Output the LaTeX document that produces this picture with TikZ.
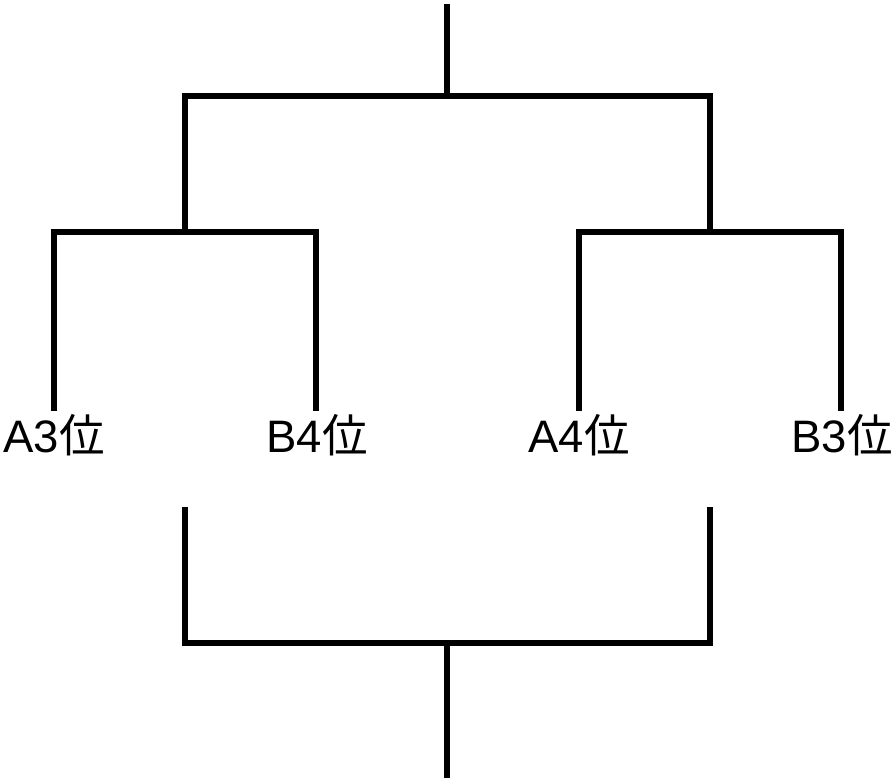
\documentclass[tikz,border=0pt]{standalone}
\usepackage{fontspec}
\setmainfont{Liberation Sans}
\newfontfamily\cjk{Noto Sans CJK JP}
\begin{document}
\begin{tikzpicture}[x=1pt,y=-1pt,
  bracket/.style={line width=6pt,line cap=butt,line join=miter},
  lbl/.style={anchor=base,inner sep=0pt,font=\fontsize{45.5}{50}\selectfont}]
\useasboundingbox (0,0) rectangle (895,779);
% label nodes
\node[lbl] (a3) at (54,452) {A3{\cjk 位}};
\node[lbl] (b4) at (317,452) {B4{\cjk 位}};
\node[lbl] (a4) at (579,452) {A4{\cjk 位}};
\node[lbl] (b3) at (842,452) {B3{\cjk 位}};
% coordinates
\coordinate (top) at (447,4);
\coordinate (tj) at (447,96);
\coordinate (tl) at (185,96);
\coordinate (tr) at (710,96);
\coordinate (ml) at (185,232);
\coordinate (mr) at (710,232);
\coordinate (a3t) at (54,232);
\coordinate (a3e) at (54,411);
\coordinate (b4t) at (316,232);
\coordinate (b4e) at (316,411);
\coordinate (a4t) at (579,232);
\coordinate (a4e) at (579,411);
\coordinate (b3t) at (841,232);
\coordinate (b3e) at (841,411);
\coordinate (ls) at (185,507);
\coordinate (lb) at (185,643);
\coordinate (rs) at (710,507);
\coordinate (rb) at (710,643);
\coordinate (bj) at (447,643);
\coordinate (bot) at (447,778);
% upper bracket
\draw[bracket] (top) -- (tj);
\draw[bracket] (ml) -- (tl) -- (tr) -- (mr);
\draw[bracket] (a3e) -- (a3t) -- (b4t) -- (b4e);
\draw[bracket] (a4e) -- (a4t) -- (b3t) -- (b3e);
% lower bracket
\draw[bracket] (ls) -- (lb) -- (rb) -- (rs);
\draw[bracket] (bj) -- (bot);
\end{tikzpicture}
\end{document}
